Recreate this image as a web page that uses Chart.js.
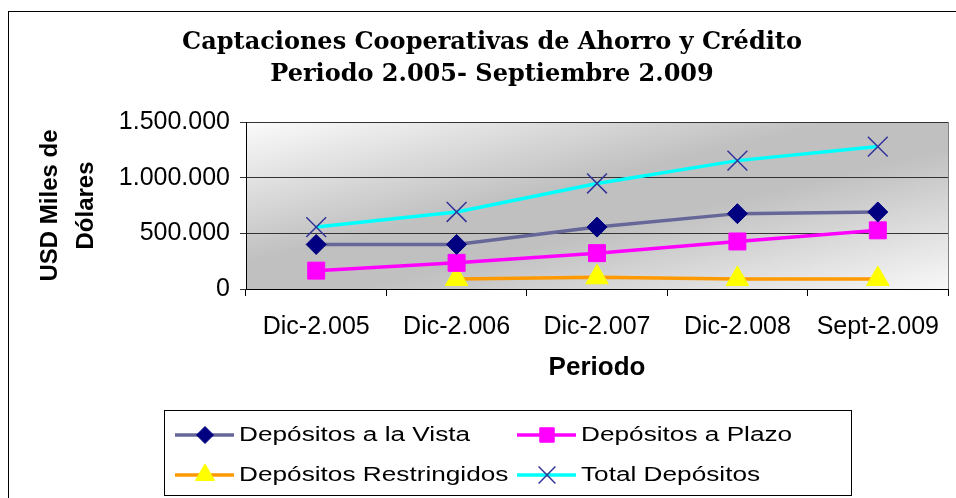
<!DOCTYPE html>
<html>
<head>
<meta charset="utf-8">
<script src="https://cdn.jsdelivr.net/npm/chart.js@4.4.1/dist/chart.umd.min.js"></script>
<style>
  html, body { margin: 0; padding: 0; background: #fff; }
  #wrap { width: 956px; height: 498px; }
</style>
</head>
<body>
<div id="wrap"><canvas id="c" width="956" height="498"></canvas></div>
<script>
// data (USD miles)
const periodos = ['Dic-2.005', 'Dic-2.006', 'Dic-2.007', 'Dic-2.008', 'Sept-2.009'];
const vista = [400000, 400000, 556000, 677000, 692000];
const plazo = [165000, 235000, 322000, 427000, 527000];
const restringidos = [null, 90000, 105000, 90000, 90000];
const total = [556000, 692000, 948000, 1153000, 1279000];
const yTicks = [0, 500000, 1000000, 1500000];
const titulo = ['Captaciones Cooperativas de Ahorro y Crédito', 'Periodo 2.005- Septiembre 2.009'];

const sans = '"Liberation Sans", Arial, sans-serif';

function fmt(v) {
  return String(v).replace(/\B(?=(\d{3})+(?!\d))/g, '.');
}

// gray diagonal fill behind the plot, like the old Excel look
const plotBg = {
  id: 'plotBg',
  beforeDraw(chart) {
    const { ctx, chartArea: a } = chart;
    ctx.save();
    ctx.translate(a.left, a.top);
    ctx.scale(a.right - a.left, a.bottom - a.top);
    const g = ctx.createLinearGradient(0, 0, 1, 1);
    g.addColorStop(0, '#fbfbfb');
    g.addColorStop(0.42, '#c0c0c0');
    g.addColorStop(0.58, '#c0c0c0');
    g.addColorStop(1, '#f8f8f8');
    ctx.fillStyle = g;
    ctx.fillRect(0, 0, 1, 1);
    ctx.restore();
    ctx.save();
    ctx.strokeStyle = '#808080';
    ctx.lineWidth = 1;
    ctx.strokeRect(a.left + 0.5, a.top + 0.5, a.right - a.left, a.bottom - a.top);
    ctx.restore();
  }
};

// outer frame, serif title and boxed legend
const extras = {
  id: 'extras',
  afterDraw(chart) {
    const ctx = chart.ctx;
    ctx.save();
    ctx.strokeStyle = '#000';
    ctx.lineWidth = 1;
    ctx.strokeRect(8.5, 11.5, 980, 500);

    ctx.fillStyle = '#000';
    ctx.font = 'bold 24px "DejaVu Serif", serif';
    ctx.textAlign = 'center';
    ctx.textBaseline = 'middle';
    ctx.fillText(titulo[0], 492, 43);
    ctx.fillText(titulo[1], 492, 75);

    ctx.strokeStyle = '#000';
    ctx.strokeRect(164.5, 410.5, 687, 85);
    const cols = [175, 517];
    const rows = [435, 475];
    chart.data.datasets.forEach((ds, i) => {
      const x = cols[i % 2], y = rows[Math.floor(i / 2)];
      ctx.strokeStyle = ds.borderColor;
      ctx.lineWidth = 3.5;
      ctx.beginPath();
      ctx.moveTo(x, y);
      ctx.lineTo(x + 59, y);
      ctx.stroke();
      ctx.fillStyle = ds.pointBackgroundColor;
      ctx.strokeStyle = ds.pointBorderColor;
      ctx.lineWidth = ds.pointBorderWidth;
      Chart.helpers.drawPoint(ctx, {
        pointStyle: ds.pointStyle, rotation: 0,
        radius: ds.pointRadius * 0.85, borderWidth: ds.pointBorderWidth
      }, x + 30, y);
      // legend text in the reference is drawn wide, so stretch it
      ctx.save();
      ctx.translate(x + 64, y);
      ctx.scale(1.31, 1);
      ctx.fillStyle = '#000';
      ctx.textAlign = 'left';
      ctx.font = '20px ' + sans;
      ctx.fillText(ds.label, 0, 0);
      ctx.restore();
    });
    ctx.restore();
  }
};

new Chart(document.getElementById('c'), {
  type: 'line',
  data: {
    labels: periodos,
    datasets: [
      {
        label: 'Depósitos a la Vista', data: vista,
        borderColor: '#666699', borderWidth: 3.5,
        pointStyle: 'rectRot', pointRadius: 10,
        pointBackgroundColor: '#000080', pointBorderColor: '#000080', pointBorderWidth: 1
      },
      {
        label: 'Depósitos a Plazo', data: plazo,
        borderColor: '#ff00ff', borderWidth: 3.5,
        pointStyle: 'rect', pointRadius: 12,
        pointBackgroundColor: '#ff00ff', pointBorderColor: '#ff00ff', pointBorderWidth: 1
      },
      {
        label: 'Depósitos Restringidos', data: restringidos,
        borderColor: '#ff9900', borderWidth: 3.5,
        pointStyle: 'triangle', pointRadius: 13,
        pointBackgroundColor: '#ffff00', pointBorderColor: '#ffff00', pointBorderWidth: 1
      },
      {
        label: 'Total Depósitos', data: total,
        borderColor: '#00ffff', borderWidth: 3.5,
        pointStyle: 'crossRot', pointRadius: 14,
        pointBackgroundColor: '#333399', pointBorderColor: '#333399', pointBorderWidth: 1.5
      }
    ]
  },
  options: {
    responsive: false,
    animation: false,
    layout: { autoPadding: false, padding: { left: 20, right: 8, top: 122, bottom: 109 } },
    plugins: {
      legend: { display: false },
      title: { display: false },
      tooltip: { enabled: false }
    },
    elements: { line: { tension: 0 } },
    scales: {
      x: {
        offset: true,
        afterFit(scale) {
          scale.height = 100;
          scale.paddingLeft = 0;
          scale.paddingRight = 0;
        },
        grid: { offset: true, drawOnChartArea: false, color: '#000', tickLength: 7 },
        border: { color: '#000' },
        ticks: { color: '#000', font: { family: sans, size: 25 }, padding: 16, maxRotation: 0 },
        title: { display: true, text: 'Periodo', color: '#000', font: { family: sans, size: 26, weight: 'bold' }, padding: { top: 0, bottom: 6 } }
      },
      y: {
        min: 0,
        max: 1500000,
        afterFit(scale) { scale.width = 226; },
        afterBuildTicks(scale) { scale.ticks = yTicks.map(v => ({ value: v })); },
        grid: { color: '#333', tickLength: 6 },
        border: { color: '#000' },
        ticks: { color: '#000', font: { family: sans, size: 25 }, padding: 10, callback: v => fmt(v) },
        title: { display: true, text: ['USD Miles de', 'Dólares'], color: '#000', font: { family: sans, size: 24, weight: 'bold', lineHeight: 1.5 }, padding: { top: 12, bottom: 0 } }
      }
    }
  },
  plugins: [plotBg, extras]
});
</script>
</body>
</html>
